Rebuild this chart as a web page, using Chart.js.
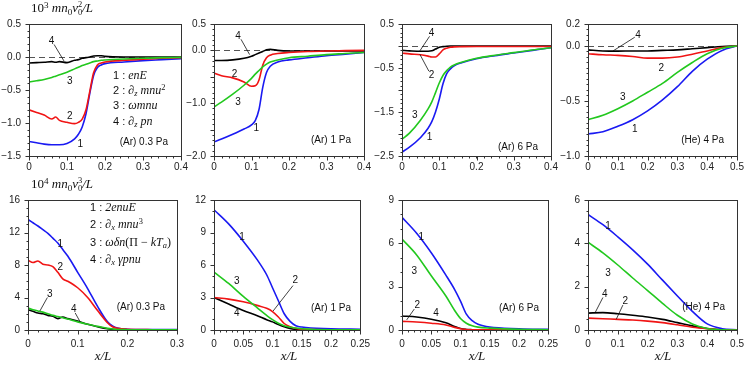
<!DOCTYPE html>
<html>
<head>
<meta charset="utf-8">
<script src="https://cdn.jsdelivr.net/npm/chart.js@4"></script>
<style>
body { margin: 0; background: #fff; }
#wrap { position: relative; width: 747px; height: 367px; overflow: hidden; font-family: 'Liberation Sans', Arial, sans-serif; }
canvas { position: absolute; }
.t { position: absolute; white-space: nowrap; color: #111; font-size: 10px; line-height: 12px; }
.m { font-family: 'Liberation Serif', serif; font-size: 13px; line-height: 14px; }
.m i { font-style: italic; }
sub, sup { font-size: 70%; line-height: 0; position: relative; vertical-align: baseline; }
sup { top: -0.45em; }
sub { top: 0.28em; }
.ss { display: inline-block; vertical-align: -0.3em; font-size: 65%; line-height: 0.85em; font-style: normal; }
.ss span { display: block; }
.lg { font-size: 12px; }
</style>
</head>
<body>
<div id="wrap"></div>
<script>
// ---- data: top row (momentum terms, units 10^3 m n0 v0^2 / L) ----
const p1X     = [0, 0.02, 0.04, 0.06, 0.07, 0.08, 0.1, 0.12, 0.13, 0.14, 0.15, 0.16, 0.17, 0.18, 0.19, 0.2, 0.25, 0.3, 0.35, 0.4];
const p1Blue  = [-1.28, -1.30, -1.32, -1.33, -1.33, -1.33, -1.31, -1.24, -1.17, -1.06, -0.86, -0.55, -0.28, -0.16, -0.12, -0.10, -0.075, -0.055, -0.04, -0.025];
const p1Red   = [-0.80, -0.84, -0.88, -0.94, -0.91, -0.96, -0.99, -1.01, -0.99, -0.94, -0.80, -0.52, -0.24, -0.12, -0.09, -0.075, -0.05, -0.035, -0.02, -0.01];
const p1Green = [-0.38, -0.36, -0.34, -0.31, -0.29, -0.27, -0.23, -0.18, -0.155, -0.13, -0.11, -0.09, -0.07, -0.06, -0.05, -0.045, -0.03, -0.02, -0.01, -0.005];
const p1Black = [-0.09, -0.085, -0.08, -0.07, -0.08, -0.07, -0.085, -0.05, -0.04, -0.02, -0.01, 0.0, 0.015, 0.02, 0.02, 0.01, 0, 0, 0, 0];

const p2X     = [0, 0.02, 0.05, 0.08, 0.1, 0.11, 0.12, 0.13, 0.14, 0.15, 0.17, 0.2, 0.25, 0.3, 0.35, 0.4];
const p2Blue  = [-1.73, -1.68, -1.59, -1.49, -1.41, -1.33, -1.12, -0.70, -0.42, -0.30, -0.22, -0.18, -0.14, -0.10, -0.07, -0.04];
const p2Red   = [-0.43, -0.48, -0.52, -0.60, -0.68, -0.67, -0.56, -0.28, -0.14, -0.09, -0.06, -0.04, -0.02, -0.01, -0.005, 0];
const p2Green = [-1.07, -0.98, -0.83, -0.66, -0.53, -0.45, -0.38, -0.31, -0.26, -0.22, -0.18, -0.14, -0.11, -0.08, -0.06, -0.04];
const p2Black = [-0.19, -0.19, -0.18, -0.15, -0.11, -0.08, -0.05, -0.02, 0.01, 0.02, 0.0, -0.01, -0.01, -0.01, -0.01, -0.01];

const p3X     = [0, 0.02, 0.05, 0.07, 0.08, 0.09, 0.1, 0.11, 0.12, 0.13, 0.14, 0.16, 0.2, 0.25, 0.3, 0.35, 0.4];
const p3Blue  = [-2.41, -2.30, -2.08, -1.87, -1.72, -1.50, -1.21, -0.86, -0.63, -0.52, -0.45, -0.38, -0.29, -0.22, -0.16, -0.10, -0.04];
const p3Red   = [-0.16, -0.18, -0.20, -0.23, -0.25, -0.25, -0.18, -0.09, -0.05, -0.03, -0.02, -0.015, -0.01, -0.01, -0.01, -0.01, -0.01];
const p3Green = [-2.12, -1.98, -1.68, -1.43, -1.27, -1.06, -0.84, -0.67, -0.56, -0.48, -0.43, -0.37, -0.28, -0.21, -0.15, -0.09, -0.04];
const p3Black = [-0.10, -0.11, -0.12, -0.12, -0.11, -0.07, -0.03, -0.015, -0.005, 0, 0, 0, 0, 0, 0, 0, 0];

const p4X     = [0, 0.05, 0.1, 0.15, 0.2, 0.25, 0.3, 0.35, 0.4, 0.45, 0.5];
const p4Blue  = [-0.80, -0.78, -0.73, -0.67, -0.59, -0.49, -0.37, -0.23, -0.12, -0.04, 0];
const p4Red   = [-0.07, -0.08, -0.085, -0.095, -0.11, -0.11, -0.10, -0.075, -0.045, -0.015, 0];
const p4Green = [-0.67, -0.63, -0.57, -0.50, -0.42, -0.34, -0.24, -0.15, -0.07, -0.02, 0];
const p4Black = [-0.035, -0.045, -0.047, -0.045, -0.045, -0.04, -0.035, -0.025, -0.015, -0.005, 0];

// ---- data: bottom row (energy terms, units 10^4 m n0 v0^3 / L) ----
const p5X     = [0, 0.01, 0.02, 0.03, 0.04, 0.05, 0.06, 0.07, 0.08, 0.1, 0.12, 0.14, 0.16, 0.17, 0.18, 0.2, 0.25, 0.3];
const p5Blue  = [13.6, 13.2, 12.8, 12.35, 11.9, 11.3, 10.7, 9.9, 9.1, 7.1, 5.1, 2.9, 1.0, 0.5, 0.24, 0.1, 0.05, 0.04];
const p5Red   = [8.6, 8.3, 8.5, 8.1, 8.0, 7.8, 7.1, 6.3, 6.0, 5.2, 4.0, 2.4, 0.9, 0.4, 0.2, 0.08, 0.04, 0.03];
const p5Green = [2.7, 2.5, 2.35, 2.2, 2.0, 1.8, 1.65, 1.5, 1.35, 1.0, 0.7, 0.45, 0.2, 0.12, 0.07, 0.04, 0.02, 0.01];
const p5Black = [2.5, 2.3, 2.1, 2.0, 1.8, 1.7, 1.4, 1.6, 1.4, 1.1, 0.7, 0.4, 0.15, 0.08, 0.04, 0.02, 0.01, 0.01];

const p6X     = [0, 0.025, 0.05, 0.075, 0.09, 0.1, 0.11, 0.12, 0.13, 0.14, 0.15, 0.2, 0.25];
const p6Blue  = [11.1, 9.8, 8.2, 6.4, 5.1, 3.9, 2.7, 1.5, 0.8, 0.4, 0.27, 0.12, 0.06];
const p6Red   = [3.0, 2.85, 2.6, 2.25, 2.0, 1.7, 1.2, 0.6, 0.3, 0.15, 0.06, 0.02, 0.01];
const p6Green = [5.35, 4.3, 3.1, 2.0, 1.35, 0.95, 0.62, 0.4, 0.26, 0.18, 0.12, 0.03, 0.02];
const p6Black = [3.0, 2.4, 1.8, 1.3, 0.95, 0.75, 0.5, 0.3, 0.15, 0.05, 0.02, 0.01, 0];

const p7X     = [0, 0.025, 0.05, 0.075, 0.09, 0.1, 0.11, 0.12, 0.13, 0.15, 0.2, 0.25];
const p7Blue  = [7.8, 6.7, 5.35, 3.8, 2.8, 2.0, 1.1, 0.65, 0.4, 0.2, 0.09, 0.04];
const p7Red   = [0.6, 0.55, 0.47, 0.35, 0.18, 0.09, 0.04, 0.02, 0.01, 0.01, 0.01, 0.01];
const p7Green = [6.3, 5.2, 3.75, 2.35, 1.35, 0.8, 0.47, 0.29, 0.2, 0.13, 0.04, 0.02];
const p7Black = [0.97, 0.9, 0.75, 0.5, 0.25, 0.1, 0.04, 0.02, 0.01, 0.01, 0.01, 0.01];

const p8X     = [0, 0.05, 0.1, 0.15, 0.2, 0.25, 0.3, 0.35, 0.4, 0.45, 0.5];
const p8Blue  = [5.33, 4.86, 4.3, 3.7, 3.04, 2.3, 1.57, 0.86, 0.28, 0.06, 0.01];
const p8Red   = [0.55, 0.52, 0.49, 0.46, 0.41, 0.34, 0.24, 0.13, 0.06, 0.01, 0];
const p8Green = [4.05, 3.56, 3.0, 2.4, 1.82, 1.23, 0.68, 0.28, 0.07, 0.01, 0];
const p8Black = [0.78, 0.8, 0.75, 0.68, 0.6, 0.49, 0.34, 0.19, 0.07, 0.01, 0];

// ---- ticks ----
const xTicks04   = [0, 0.1, 0.2, 0.3, 0.4];
const xTicks05   = [0, 0.1, 0.2, 0.3, 0.4, 0.5];
const xTicks03   = [0, 0.1, 0.2, 0.3];
const xTicks025  = [0, 0.05, 0.1, 0.15, 0.2, 0.25];
const y1Ticks = [0.5, 0, -0.5, -1, -1.5],        y1Labels = [0.5, 0, -0.5, -1, -1.5];
const y2Ticks = [0.5, 0, -0.5, -1, -1.5, -2],    y2Labels = [0.5, 0, -1, -2];
const y3Ticks = [0.5, 0, -0.5, -1, -1.5, -2, -2.5], y3Labels = [0.5, -0.5, -1.5, -2.5];
const y4Ticks = [0.2, 0, -0.5, -1],              y4Labels = [0.2, 0, -0.5, -1];
const y5Ticks = [0, 4, 8, 12, 16];
const y6Ticks = [0, 3, 6, 9, 12];
const y7Ticks = [0, 3, 6, 9];
const y8Ticks = [0, 2, 4, 6];

// ---- curve numbers and leader lines (data coords) ----
const p1Notes = [['4', 0.059, 0.245], ['3', 0.107, -0.37], ['2', 0.107, -0.90], ['1', 0.135, -1.32]];
const p1Leads = [[0.066, 0.19, 0.092, -0.06]];
const p2Notes = [['4', 0.064, 0.27], ['2', 0.055, -0.45], ['3', 0.064, -0.98], ['1', 0.113, -1.48]];
const p2Leads = [[0.072, 0.21, 0.095, -0.08]];
const p3Notes = [['4', 0.079, 0.29], ['2', 0.079, -0.66], ['3', 0.034, -1.57], ['1', 0.074, -2.08]];
const p3Leads = [[0.074, 0.22, 0.048, -0.11], [0.072, -0.57, 0.048, -0.19]];
const p4Notes = [['4', 0.168, 0.10], ['2', 0.246, -0.20], ['3', 0.117, -0.47], ['1', 0.157, -0.755]];
const p4Leads = [[0.157, 0.08, 0.084, -0.045]];
const p5Notes = [['1', 0.065, 10.6], ['2', 0.065, 7.7], ['3', 0.044, 4.45], ['4', 0.092, 2.6]];
const p5Leads = [[0.039, 4.0, 0.024, 2.35], [0.095, 2.1, 0.105, 1.0]];
const p6Notes = [['1', 0.048, 8.55], ['3', 0.039, 4.47], ['2', 0.139, 4.56], ['4', 0.039, 1.57]];
const p6Leads = [[0.135, 4.1, 0.101, 1.75]];
const p7Notes = [['1', 0.033, 6.4], ['3', 0.021, 4.06], ['2', 0.026, 1.69], ['4', 0.058, 1.13]];
const p7Leads = [[0.021, 1.45, 0.008, 0.7]];
const p8Notes = [['1', 0.067, 4.77], ['3', 0.067, 2.64], ['4', 0.056, 1.64], ['2', 0.125, 1.31]];
const p8Leads = [[0.05, 1.5, 0.025, 0.83], [0.117, 1.15, 0.095, 0.5]];

const panelTags = ['(Ar) 0.3 Pa', '(Ar) 1 Pa', '(Ar) 6 Pa', '(He) 4 Pa', '(Ar) 0.3 Pa', '(Ar) 1 Pa', '(Ar) 6 Pa', '(He) 4 Pa'];

const BLUE = '#1a1af2', RED = '#f01414', GREEN = '#22c81e', BLACK = '#000';

// plot boxes in page pixels [left, top, right, bottom]
const boxes = [[29, 19, 181, 156], [214, 19, 364, 156], [402, 19, 551, 156], [588, 19, 737, 156],
               [28, 195, 178, 330], [214, 195, 364, 330], [402, 195, 552, 330], [588, 195, 738, 330]];
const tagY = [142, 140, 147, 140, 307, 308, 308, 307];

const panels = [
  { x: p1X, s: [p1Green, p1Red, p1Blue, p1Black], xmax: 0.4, xt: xTicks04, xm: 0.02, ymin: -1.5, ymax: 0.5, yt: y1Ticks, yl: y1Labels, ym: 0.1, notes: p1Notes, leads: p1Leads, top: true },
  { x: p2X, s: [p2Green, p2Red, p2Blue, p2Black], xmax: 0.4, xt: xTicks04, xm: 0.02, ymin: -2, ymax: 0.5, yt: y2Ticks, yl: y2Labels, ym: 0.1, notes: p2Notes, leads: p2Leads, top: true },
  { x: p3X, s: [p3Green, p3Red, p3Blue, p3Black], xmax: 0.4, xt: xTicks04, xm: 0.02, ymin: -2.5, ymax: 0.5, yt: y3Ticks, yl: y3Labels, ym: 0.1, notes: p3Notes, leads: p3Leads, top: true },
  { x: p4X, s: [p4Green, p4Red, p4Blue, p4Black], xmax: 0.5, xt: xTicks05, xm: 0.02, ymin: -1, ymax: 0.2, yt: y4Ticks, yl: y4Labels, ym: 0.05, notes: p4Notes, leads: p4Leads, top: true },
  { x: p5X, s: [p5Green, p5Red, p5Blue, p5Black], xmax: 0.3, xt: xTicks03, xm: 0.02, ymin: 0, ymax: 16, yt: y5Ticks, yl: y5Ticks, ym: 1, notes: p5Notes, leads: p5Leads, top: false },
  { x: p6X, s: [p6Green, p6Red, p6Blue, p6Black], xmax: 0.25, xt: xTicks025, xm: 0.01, ymin: 0, ymax: 12, yt: y6Ticks, yl: y6Ticks, ym: 1, notes: p6Notes, leads: p6Leads, top: false },
  { x: p7X, s: [p7Green, p7Red, p7Blue, p7Black], xmax: 0.25, xt: xTicks025, xm: 0.01, ymin: 0, ymax: 9, yt: y7Ticks, yl: y7Ticks, ym: 1, notes: p7Notes, leads: p7Leads, top: false },
  { x: p8X, s: [p8Green, p8Red, p8Blue, p8Black], xmax: 0.5, xt: xTicks05, xm: 0.02, ymin: 0, ymax: 6, yt: y8Ticks, yl: y8Ticks, ym: 0.5, notes: p8Notes, leads: p8Leads, top: false }
];

const PADL = 30, PADR = 14, PADT = 9, PADB = 22;
const TICKFONT = { family: "'Liberation Sans', Arial, sans-serif", size: 10 };

const decor = {
  id: 'decor',
  beforeDatasetsDraw(chart, args, o) {
    if (!o.zero) return;
    const { ctx, chartArea: a, scales: { y } } = chart;
    const py = Math.round(y.getPixelForValue(0)) + 0.5;
    ctx.save();
    ctx.strokeStyle = '#555';
    ctx.lineWidth = 1;
    ctx.setLineDash([6, 4]);
    ctx.beginPath(); ctx.moveTo(a.left, py); ctx.lineTo(a.right, py); ctx.stroke();
    ctx.restore();
  },
  afterDatasetsDraw(chart, args, o) {
    const { ctx, chartArea: a, scales: { x, y } } = chart;
    ctx.save();
    ctx.strokeStyle = '#333';
    ctx.lineWidth = 1;
    ctx.strokeRect(Math.round(a.left) + 0.5, Math.round(a.top) + 0.5, Math.round(a.right - a.left), Math.round(a.bottom - a.top));
    const bx = Math.round(a.bottom) + 0.5, lx = Math.round(a.left) + 0.5;
    ctx.beginPath();
    // minor ticks
    for (let v = x.min; v <= x.max + 1e-9; v += o.xm) {
      const px = Math.round(x.getPixelForValue(v)) + 0.5;
      ctx.moveTo(px, bx); ctx.lineTo(px, bx + 2);
    }
    for (let v = y.min; v <= y.max + 1e-9; v += o.ym) {
      const py = Math.round(y.getPixelForValue(v)) + 0.5;
      ctx.moveTo(lx, py); ctx.lineTo(lx - 2, py);
    }
    // major ticks
    o.xt.forEach(v => {
      const px = Math.round(x.getPixelForValue(v)) + 0.5;
      ctx.moveTo(px, bx); ctx.lineTo(px, bx + 4);
    });
    o.yt.forEach(v => {
      const py = Math.round(y.getPixelForValue(v)) + 0.5;
      ctx.moveTo(lx, py); ctx.lineTo(lx - 4, py);
    });
    ctx.stroke();
    // leader lines and curve numbers
    ctx.strokeStyle = '#111';
    ctx.lineWidth = 0.8;
    ctx.beginPath();
    o.leads.forEach(([x1, y1, x2, y2]) => {
      ctx.moveTo(x.getPixelForValue(x1), y.getPixelForValue(y1));
      ctx.lineTo(x.getPixelForValue(x2), y.getPixelForValue(y2));
    });
    ctx.stroke();
    ctx.fillStyle = '#111';
    ctx.font = "10px 'Liberation Sans', Arial, sans-serif";
    ctx.textAlign = 'center';
    ctx.textBaseline = 'middle';
    o.notes.forEach(([txt, vx, vy]) => ctx.fillText(txt, x.getPixelForValue(vx), y.getPixelForValue(vy)));
    ctx.restore();
  }
};

function fmtTop(v) { return v.toFixed(1).replace('-', '\u2212'); }

const wrap = document.getElementById('wrap');

panels.forEach((p, i) => {
  const [l, t, r, b] = boxes[i];
  const W = r - l + PADL + PADR, H = b - t + PADT + PADB;
  const cv = document.createElement('canvas');
  cv.width = W; cv.height = H;
  cv.style.left = (l - PADL) + 'px';
  cv.style.top = (t - PADT) + 'px';
  cv.style.width = W + 'px';
  cv.style.height = H + 'px';
  wrap.appendChild(cv);

  const colors = [GREEN, RED, BLUE, BLACK];
  const datasets = p.s.map((ys, k) => ({
    data: p.x.map((xv, j) => ({ x: xv, y: ys[j] })),
    borderColor: colors[k],
    borderWidth: 1.6,
    pointRadius: 0,
    fill: false,
    cubicInterpolationMode: 'monotone'
  }));

  new Chart(cv, {
    type: 'line',
    data: { datasets },
    options: {
      responsive: false,
      animation: false,
      events: [],
      layout: { padding: { left: 0, right: PADR, top: PADT, bottom: 0 } },
      plugins: {
        legend: { display: false },
        tooltip: { enabled: false },
        decor: { zero: p.top, xt: p.xt, yt: p.yt, xm: p.xm, ym: p.ym, notes: p.notes, leads: p.leads }
      },
      scales: {
        x: {
          type: 'linear', min: 0, max: p.xmax,
          afterBuildTicks: s => { s.ticks = p.xt.map(v => ({ value: v })); },
          afterFit: s => { s.height = PADB; },
          grid: { display: false, drawTicks: false }, border: { display: false },
          ticks: { font: TICKFONT, color: '#222', padding: p.top ? 5 : 8, maxRotation: 0, autoSkip: false,
                   callback: v => String(v) }
        },
        y: {
          type: 'linear', min: p.ymin, max: p.ymax,
          afterBuildTicks: s => { s.ticks = p.yt.map(v => ({ value: v })); },
          afterFit: s => { s.width = PADL; },
          grid: { display: false, drawTicks: false }, border: { display: false },
          ticks: { font: TICKFONT, color: '#222', padding: 8, autoSkip: false,
                   callback: v => p.yl.some(q => Math.abs(q - v) < 1e-9) ? (p.top ? fmtTop(v) : String(v)) : '' }
        }
      }
    },
    plugins: [decor]
  });

  const tag = document.createElement('div');
  tag.className = 't';
  tag.textContent = panelTags[i];
  tag.style.right = (747 - (r - 13)) + 'px';
  tag.style.top = (tagY[i] - 6) + 'px';
  wrap.appendChild(tag);
});

function addText(html, left, top, cls, center) {
  const d = document.createElement('div');
  d.className = 't ' + cls;
  d.innerHTML = html;
  d.style.left = left + 'px';
  d.style.top = top + 'px';
  if (center) d.style.transform = 'translateX(-50%)';
  wrap.appendChild(d);
}

const SANS = s => '<span style="font-family:\'Liberation Sans\',Arial,sans-serif;font-size:11px">' + s + '</span>';
addText('10<sup>3</sup> <i>mn</i><sub>0</sub><i>v</i><span class="ss"><span>2</span><span>0</span></span><i>/L</i>', 31, 1, 'm');
addText('10<sup>4</sup> <i>mn</i><sub>0</sub><i>v</i><span class="ss"><span>3</span><span>0</span></span><i>/L</i>', 31, 177, 'm');

const topLegend = [
  SANS('1 : ') + '<i>enE</i>',
  SANS('2 : ') + '<i>∂<sub>z</sub> mnu</i><sup>2</sup>',
  SANS('3 : ') + '<i>ωmnu</i>',
  SANS('4 : ') + '<i>∂<sub>z</sub> pn</i>'
];
const botLegend = [
  SANS('1 : ') + '<i>2enuE</i>',
  SANS('2 : ') + '<i>∂<sub>x</sub> mnu</i><sup>3</sup>',
  SANS('3 : ') + '<i>ωδn</i>(Π − <i>kT<sub>a</sub></i>)',
  SANS('4 : ') + '<i>∂<sub>x</sub> γpnu</i>'
];
const topLegendY = [75, 90, 105, 121];
const botLegendY = [207, 224, 242, 259];
topLegend.forEach((h, k) => addText(h, 113, topLegendY[k] - 7, 'm lg'));
botLegend.forEach((h, k) => addText(h, 90, botLegendY[k] - 7, 'm lg'));

[103, 289, 477, 663].forEach(cx => addText('<i>x/L</i>', cx, 349, 'm', true));
</script>
</body>
</html>
